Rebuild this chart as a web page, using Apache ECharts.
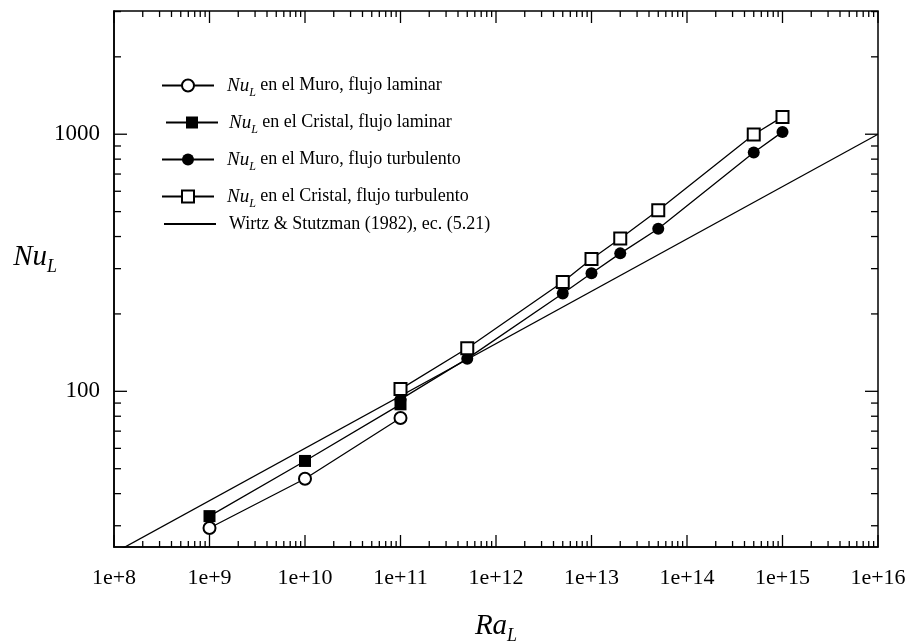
<!DOCTYPE html>
<html>
<head>
<meta charset="utf-8">
<script src="https://cdn.jsdelivr.net/npm/echarts@6/dist/echarts.min.js"></script>
<style>
  html, body { margin: 0; padding: 0; background: #fff; }
  #chart { width: 912px; height: 641px; }
</style>
</head>
<body>
<div id="chart"></div>
<script>
// Nusselt number vs Rayleigh number (log-log)
const raMuroLam = [1e9, 1e10, 1e11];
const nuMuroLam = [29.4, 45.7, 78.7];

const raCristalLam = [1e9, 1e10, 1e11];
const nuCristalLam = [32.7, 53.6, 89];

const raMuroTurb = [1e11, 5e11, 5e12, 1e13, 2e13, 5e13, 5e14, 1e15];
const nuMuroTurb = [93, 134, 240, 288, 344, 429, 849, 1021];

const raCristalTurb = [1e11, 5e11, 5e12, 1e13, 2e13, 5e13, 5e14, 1e15];
const nuCristalTurb = [102, 147, 266, 327, 393, 506, 997, 1168];

// Wirtz & Stutzman (1982) correlation, end points
const raWirtz = [1e8, 1e16];
const nuWirtz = [23.5, 1000];

const seriesNames = [
  'Muro laminar',
  'Cristal laminar',
  'Muro turbulento',
  'Cristal turbulento',
  'Wirtz'
];
const legendTexts = [
  '{i|Nu}{s|L} en el Muro, flujo laminar',
  '{i|Nu}{s|L} en el Cristal, flujo laminar',
  '{i|Nu}{s|L} en el Muro, flujo turbulento',
  '{i|Nu}{s|L} en el Cristal, flujo turbulento',
  'Wirtz & Stutzman (1982), ec. (5.21)'
];

const xTickValues = [1e8, 1e9, 1e10, 1e11, 1e12, 1e13, 1e14, 1e15, 1e16];
const xTickLabels = ['1e+8', '1e+9', '1e+10', '1e+11', '1e+12', '1e+13', '1e+14', '1e+15', '1e+16'];
const yTickValues = [100, 1000];
const yTickLabels = ['100', '1000'];

const minorMantissas = [2, 3, 4, 5, 6, 7, 8, 9];
const xDecades = [1e8, 1e9, 1e10, 1e11, 1e12, 1e13, 1e14, 1e15];
const yDecades = [10, 100, 1000];

const X_MIN = 1e8, X_MAX = 1e16;
const Y_MIN = 24.8, Y_MAX = 3015;

const FONT = '"Liberation Serif", "DejaVu Serif", serif';

function pair(xs, ys) { return xs.map((x, i) => [x, ys[i]]); }

// tick marks (inward, on all four sides)
const xTickData = [];
xTickValues.forEach(v => xTickData.push([v, 100, 1]));
xDecades.forEach(d => minorMantissas.forEach(m => xTickData.push([m * d, 100, 0])));
const yTickData = [];
yTickValues.forEach(v => yTickData.push([1e12, v, 1]));
yDecades.forEach(d => minorMantissas.forEach(m => {
  const v = m * d;
  if (v > Y_MIN && v < Y_MAX) yTickData.push([1e12, v, 0]);
}));

function xTicksRender(params, api) {
  const v = api.value(0);
  const major = api.value(2) === 1;
  const len = major ? 12 : 6;
  const b = api.coord([v, Y_MIN]);
  const t = api.coord([v, Y_MAX]);
  const style = { stroke: '#000', lineWidth: 1.3 };
  return {
    type: 'group',
    children: [
      { type: 'line', shape: { x1: b[0], y1: b[1], x2: b[0], y2: b[1] - len }, style },
      { type: 'line', shape: { x1: t[0], y1: t[1], x2: t[0], y2: t[1] + len }, style }
    ]
  };
}
function yTicksRender(params, api) {
  const v = api.value(1);
  const major = api.value(2) === 1;
  const len = major ? 13 : 7;
  const l = api.coord([X_MIN, v]);
  const r = api.coord([X_MAX, v]);
  const style = { stroke: '#000', lineWidth: 1.3 };
  return {
    type: 'group',
    children: [
      { type: 'line', shape: { x1: l[0], y1: l[1], x2: l[0] + len, y2: l[1] }, style },
      { type: 'line', shape: { x1: r[0], y1: r[1], x2: r[0] - len, y2: r[1] }, style }
    ]
  };
}

const legendRich = {
  i: { fontFamily: FONT, fontStyle: 'italic', fontSize: 19, color: '#000' },
  s: { fontFamily: FONT, fontStyle: 'italic', fontSize: 12, color: '#000', padding: [14, 0, 0, 0] }
};
// one legend block per row
const legendTops = [71, 108, 145, 182, 210];
const legendLefts = [156, 160, 156, 156, 158];

const legends = seriesNames.map((name, i) => {
  const lg = {
    data: [name],
    left: legendLefts[i],
    top: legendTops[i],
    orient: 'vertical',
    itemWidth: 52,
    itemHeight: 15,
    itemGap: 8,
    selectedMode: false,
    formatter: () => legendTexts[i],
    textStyle: {
      fontFamily: FONT, fontSize: 18, color: '#000', rich: legendRich,
      padding: [0, 0, 0, i === 1 ? 6 : 8]
    }
  };
  if (i === 4) lg.itemStyle = { opacity: 0 };
  return lg;
});

const lineStyle = { color: '#000', width: 1.3 };

const option = {
  backgroundColor: '#fff',
  animation: false,
  grid: {
    left: 114, right: 34, top: 11, bottom: 94,
    containLabel: false,
    outerBoundsMode: 'none',
    show: true, borderColor: '#000', borderWidth: 1.5, backgroundColor: 'transparent'
  },
  legend: legends,
  xAxis: {
    type: 'log', logBase: 10, min: X_MIN, max: X_MAX,
    name: '{i|Ra}{s|L}',
    nameLocation: 'middle',
    nameGap: 60,
    nameMoveOverlap: false,
    nameTextStyle: {
      rich: {
        i: { fontFamily: FONT, fontStyle: 'italic', fontSize: 29, color: '#000' },
        s: { fontFamily: FONT, fontStyle: 'italic', fontSize: 18, color: '#000', padding: [20, 0, 0, 0] }
      }
    },
    axisLine: { show: true, lineStyle: { color: '#000', width: 1.5 } },
    axisTick: { show: false },
    splitLine: { show: false },
    minorTick: { show: false },
    axisLabel: {
      customValues: xTickValues,
      formatter: v => {
        const k = xTickValues.findIndex(t => Math.abs(Math.log10(t) - Math.log10(v)) < 1e-6);
        return k >= 0 ? xTickLabels[k] : '';
      },
      fontFamily: FONT, fontSize: 22, color: '#000', margin: 20
    }
  },
  yAxis: {
    type: 'log', logBase: 10, min: Y_MIN, max: Y_MAX,
    name: '{i|Nu}{s|L}',
    nameLocation: 'middle',
    nameRotate: 0,
    nameGap: 57,
    nameMoveOverlap: false,
    nameTextStyle: {
      padding: [0, 0, 44, 0],
      rich: {
        i: { fontFamily: FONT, fontStyle: 'italic', fontSize: 29, color: '#000' },
        s: { fontFamily: FONT, fontStyle: 'italic', fontSize: 18, color: '#000', padding: [20, 0, 0, 0] }
      }
    },
    axisLine: { show: true, lineStyle: { color: '#000', width: 1.5 } },
    axisTick: { show: false },
    splitLine: { show: false },
    minorTick: { show: false },
    axisLabel: {
      customValues: yTickValues,
      formatter: v => {
        const k = yTickValues.findIndex(t => Math.abs(Math.log10(t) - Math.log10(v)) < 1e-6);
        return k >= 0 ? yTickLabels[k] : '';
      },
      fontFamily: FONT, fontSize: 23, color: '#000', margin: 14
    }
  },
  series: [
    {
      type: 'custom', name: 'xticks', renderItem: xTicksRender, data: xTickData,
      encode: { x: 0, y: 1 }, clip: false, silent: true, z: 5
    },
    {
      type: 'custom', name: 'yticks', renderItem: yTicksRender, data: yTickData,
      encode: { x: 0, y: 1 }, clip: false, silent: true, z: 5
    },
    {
      name: seriesNames[4], type: 'line', data: pair(raWirtz, nuWirtz),
      symbol: 'none', lineStyle, itemStyle: { color: '#000' }, clip: true, z: 2
    },
    {
      name: seriesNames[0], type: 'line', data: pair(raMuroLam, nuMuroLam),
      symbol: 'emptyCircle', symbolSize: 12, lineStyle,
      itemStyle: { color: '#000', borderColor: '#000', borderWidth: 1.3 }, z: 3
    },
    {
      name: seriesNames[1], type: 'line', data: pair(raCristalLam, nuCristalLam),
      symbol: 'rect', symbolSize: 12, lineStyle,
      itemStyle: { color: '#000' }, z: 3
    },
    {
      name: seriesNames[2], type: 'line', data: pair(raMuroTurb, nuMuroTurb),
      symbol: 'circle', symbolSize: 12, lineStyle,
      itemStyle: { color: '#000' }, z: 3
    },
    {
      name: seriesNames[3], type: 'line', data: pair(raCristalTurb, nuCristalTurb),
      symbol: 'emptyRect', symbolSize: 12, lineStyle,
      itemStyle: { color: '#000', borderColor: '#000', borderWidth: 1.3 }, z: 3
    }
  ]
};

const chart = echarts.init(document.getElementById('chart'), null, { renderer: 'canvas' });
chart.setOption(option);
</script>
</body>
</html>
